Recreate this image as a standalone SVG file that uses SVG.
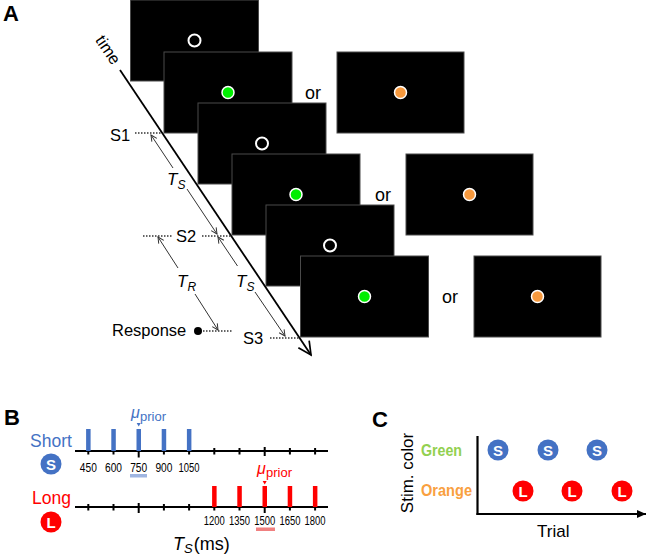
<svg xmlns="http://www.w3.org/2000/svg" width="647" height="559" viewBox="0 0 647 559">
<style>
text{font-family:"Liberation Sans",Arial,sans-serif;}
.panel{font-size:22px;font-weight:bold;fill:#000;}
.scr{fill:#000;stroke:#4a4a4a;stroke-width:1;}
.ring{fill:#000;stroke:#fff;stroke-width:2;}
.grn{fill:#00ee00;stroke:#fff;stroke-width:1.5;}
.org{fill:#f7993d;stroke:#fff;stroke-width:1.5;}
.or{font-size:18px;fill:#000;}
.lbl{font-size:16.5px;fill:#000;}
.dot{stroke:#333;stroke-width:1.3;stroke-dasharray:1.5 1.5;fill:none;}
.iv{stroke:#333;stroke-width:1;fill:none;marker-end:url(#sa);}
.tl{font-size:17px;font-style:italic;fill:#000;}
.sub{font-size:12px;}
.ax{stroke:#000;stroke-width:2.2;fill:none;}
.tk{stroke:#000;stroke-width:2;}
.num{font-size:12px;fill:#000;text-anchor:middle;}
.blue{fill:#4472c4;}
.red{fill:#ff0000;}
.cl{fill:#fff;font-size:15px;font-weight:bold;text-anchor:middle;}
</style>
<defs>
<marker id="ta" viewBox="-15 -8 17 16" markerWidth="17" markerHeight="16" refX="0" refY="0" orient="auto" markerUnits="userSpaceOnUse">
<path d="M-13,-6.5 L0,0 L-13,6.5" fill="none" stroke="#000" stroke-width="1.7"/>
</marker>
<marker id="sa" viewBox="-8 -4 9 8" markerWidth="9" markerHeight="8" refX="0" refY="0" orient="auto" markerUnits="userSpaceOnUse">
<path d="M-6,-3 L0,0 L-6,3" fill="none" stroke="#333" stroke-width="1"/>
</marker>
<marker id="fa" viewBox="-10 -5 11 10" markerWidth="11" markerHeight="10" refX="0" refY="0" orient="auto" markerUnits="userSpaceOnUse">
<path d="M-9,-4 L0,0 L-9,4 Z" fill="#000"/>
</marker>
</defs>

<text class="panel" x="3" y="21">A</text>

<g id="screens">
<g id="screen1"><rect class="scr" x="130.5" y="0" width="128" height="81"/><circle class="ring" cx="194.5" cy="40.5" r="6"/></g>
<g id="screen2"><rect class="scr" x="164" y="52" width="128" height="81"/><circle class="grn" cx="228" cy="92.5" r="6"/></g>
<g id="screen2b"><rect class="scr" x="337" y="52" width="127" height="81"/><circle class="org" cx="400.5" cy="92.5" r="6"/></g>
<g id="screen3"><rect class="scr" x="198" y="103" width="128" height="81"/><circle class="ring" cx="262" cy="143.5" r="6"/></g>
<g id="screen4"><rect class="scr" x="232" y="154" width="128" height="81"/><circle class="grn" cx="296" cy="194.5" r="6"/></g>
<g id="screen4b"><rect class="scr" x="406" y="154" width="127" height="81"/><circle class="org" cx="469.5" cy="194.5" r="6"/></g>
<g id="screen5"><rect class="scr" x="266" y="205" width="128" height="81"/><circle class="ring" cx="330" cy="245.5" r="6"/></g>
<g id="screen6"><rect class="scr" x="300.5" y="256" width="128" height="81"/><circle class="grn" cx="364.5" cy="296.5" r="6"/></g>
<g id="screen6b"><rect class="scr" x="474" y="256" width="127" height="81"/><circle class="org" cx="537.5" cy="296.5" r="6"/></g>
</g>

<text class="or" x="305" y="99">or</text>
<text class="or" x="375" y="201">or</text>
<text class="or" x="442" y="303">or</text>

<g id="connectors">
<line x1="120" y1="70" x2="311" y2="355" stroke="#000" stroke-width="1.8" marker-end="url(#ta)"/>
<line class="dot" x1="135" y1="133" x2="162" y2="133"/>
<line class="dot" x1="143" y1="236" x2="172" y2="236"/>
<line class="dot" x1="202" y1="236" x2="232" y2="236"/>
<line class="dot" x1="203" y1="331" x2="232" y2="331"/>
<line class="dot" x1="270" y1="338" x2="300" y2="338"/>
<line class="iv" x1="173" y1="168" x2="151" y2="135"/>
<line class="iv" x1="187" y1="189" x2="217" y2="234"/>
<line class="iv" x1="237.5" y1="266" x2="218" y2="237"/>
<line class="iv" x1="255" y1="292" x2="285" y2="336"/>
<line class="iv" x1="178" y1="268" x2="158" y2="237"/>
<line class="iv" x1="195" y1="294" x2="218" y2="330"/>
</g>

<text font-size="16.5" text-anchor="middle" transform="translate(103.5,53) rotate(56)">time</text>
<text class="lbl" x="110" y="140.5">S1</text>
<text class="lbl" x="176" y="242">S2</text>
<text class="lbl" x="243" y="344">S3</text>
<text class="lbl" x="112" y="336">Response</text>
<circle cx="198" cy="331" r="4" fill="#000"/>
<text class="tl" x="167" y="185">T<tspan class="sub" dy="4">S</tspan></text>
<text class="tl" x="236" y="287">T<tspan class="sub" dy="4">S</tspan></text>
<text class="tl" x="177" y="287">T<tspan class="sub" dy="4">R</tspan></text>

<!-- Panel B -->
<text class="panel" x="4" y="425">B</text>
<g id="short">
<text x="30" y="447" font-size="17.5" class="blue">Short</text>
<circle cx="51" cy="464" r="10.5" fill="#4472c4"/>
<text class="cl" x="51" y="469.5">S</text>
<line class="ax" x1="75" y1="451" x2="328" y2="451"/>
<g class="tk">
<line x1="88.3" y1="448" x2="88.3" y2="454.5"/>
<line x1="113.5" y1="448" x2="113.5" y2="454.5"/>
<line x1="138.7" y1="447" x2="138.7" y2="457.5"/>
<line x1="163.9" y1="448" x2="163.9" y2="454.5"/>
<line x1="189.1" y1="448" x2="189.1" y2="454.5"/>
<line x1="214.3" y1="448" x2="214.3" y2="454.5"/>
<line x1="239.5" y1="448" x2="239.5" y2="454.5"/>
<line x1="264.7" y1="447" x2="264.7" y2="456"/>
<line x1="289.9" y1="448" x2="289.9" y2="454.5"/>
<line x1="315.1" y1="448" x2="315.1" y2="454.5"/>
</g>
<g fill="#4472c4">
<rect x="86.1" y="429" width="4.5" height="22"/>
<rect x="111.3" y="429" width="4.5" height="22"/>
<rect x="136.5" y="429" width="4.5" height="22"/>
<rect x="161.7" y="429" width="4.5" height="22"/>
<rect x="186.9" y="429" width="4.5" height="22"/>
</g>
<text class="blue" x="131" y="418" font-size="16" font-style="italic">μ</text>
<text class="blue" x="140" y="420.5" font-size="13">prior</text>
<path d="M136.7,423 L140.7,423 L138.7,426.5 Z" fill="#4472c4"/>
<text class="num" x="88.3" y="471.5" textLength="17" lengthAdjust="spacingAndGlyphs">450</text>
<text class="num" x="113.5" y="471.5" textLength="17" lengthAdjust="spacingAndGlyphs">600</text>
<text class="num" x="138.7" y="471.5" textLength="17" lengthAdjust="spacingAndGlyphs">750</text>
<text class="num" x="163.9" y="471.5" textLength="17" lengthAdjust="spacingAndGlyphs">900</text>
<text class="num" x="189.1" y="471.5" textLength="21" lengthAdjust="spacingAndGlyphs">1050</text>
<rect x="130" y="474" width="17" height="3.5" fill="#9fb5e1"/>
</g>
<g id="long">
<text x="32" y="504" font-size="17.5" class="red">Long</text>
<circle cx="51" cy="522" r="10.5" fill="#ff0000"/>
<text class="cl" x="51" y="527.5">L</text>
<line class="ax" x1="75" y1="507" x2="328" y2="507"/>
<g class="tk">
<line x1="88.3" y1="504" x2="88.3" y2="510.5"/>
<line x1="113.5" y1="504" x2="113.5" y2="510.5"/>
<line x1="138.7" y1="503" x2="138.7" y2="513"/>
<line x1="163.9" y1="504" x2="163.9" y2="510.5"/>
<line x1="189.1" y1="504" x2="189.1" y2="510.5"/>
<line x1="214.3" y1="504" x2="214.3" y2="510.5"/>
<line x1="239.5" y1="504" x2="239.5" y2="510.5"/>
<line x1="264.7" y1="503" x2="264.7" y2="513"/>
<line x1="289.9" y1="504" x2="289.9" y2="510.5"/>
<line x1="315.1" y1="504" x2="315.1" y2="510.5"/>
</g>
<g fill="#ff0000">
<rect x="212.1" y="486" width="4.5" height="21"/>
<rect x="237.3" y="486" width="4.5" height="21"/>
<rect x="262.5" y="486" width="4.5" height="21"/>
<rect x="287.7" y="486" width="4.5" height="21"/>
<rect x="312.9" y="486" width="4.5" height="21"/>
</g>
<text class="red" x="257" y="474" font-size="16" font-style="italic">μ</text>
<text class="red" x="266" y="476.5" font-size="13">prior</text>
<path d="M262.7,481 L266.7,481 L264.7,484.5 Z" fill="#ff0000"/>
<text class="num" x="214.3" y="525" textLength="21" lengthAdjust="spacingAndGlyphs">1200</text>
<text class="num" x="239.5" y="525" textLength="21" lengthAdjust="spacingAndGlyphs">1350</text>
<text class="num" x="264.7" y="525" textLength="21" lengthAdjust="spacingAndGlyphs">1500</text>
<text class="num" x="289.9" y="525" textLength="21" lengthAdjust="spacingAndGlyphs">1650</text>
<text class="num" x="315.1" y="525" textLength="21" lengthAdjust="spacingAndGlyphs">1800</text>
<rect x="256" y="527.5" width="19" height="3.5" fill="#f08080"/>
</g>
<text x="173" y="550" font-size="18"><tspan font-style="italic">T</tspan><tspan font-style="italic" font-size="13" dy="3">S</tspan><tspan dy="-3" dx="1">(ms)</tspan></text>

<!-- Panel C -->
<text class="panel" x="372" y="427">C</text>
<g id="chartC">
<line class="ax" x1="477.5" y1="436" x2="477.5" y2="515"/>
<line class="ax" x1="476.5" y1="514" x2="646" y2="514" marker-end="url(#fa)"/>
<text font-size="17" text-anchor="middle" transform="translate(413,473) rotate(-90)">Stim. color</text>
<text x="421" y="456" font-size="16" font-weight="bold" fill="#92d050" textLength="41" lengthAdjust="spacingAndGlyphs">Green</text>
<text x="421" y="496" font-size="16" font-weight="bold" fill="#f9a03f" textLength="51" lengthAdjust="spacingAndGlyphs">Orange</text>
<text x="537" y="537" font-size="17">Trial</text>
</g>
<g id="cS1"><circle cx="498" cy="450" r="10.5" fill="#4472c4"/><text class="cl" x="498" y="455.5">S</text></g>
<g id="cS2"><circle cx="548" cy="450" r="10.5" fill="#4472c4"/><text class="cl" x="548" y="455.5">S</text></g>
<g id="cS3"><circle cx="597" cy="450" r="10.5" fill="#4472c4"/><text class="cl" x="597" y="455.5">S</text></g>
<g id="cL1"><circle cx="523" cy="491" r="10.5" fill="#ff0000"/><text class="cl" x="523" y="496.5">L</text></g>
<g id="cL2"><circle cx="572" cy="491" r="10.5" fill="#ff0000"/><text class="cl" x="572" y="496.5">L</text></g>
<g id="cL3"><circle cx="622" cy="491" r="10.5" fill="#ff0000"/><text class="cl" x="622" y="496.5">L</text></g>
</svg>
